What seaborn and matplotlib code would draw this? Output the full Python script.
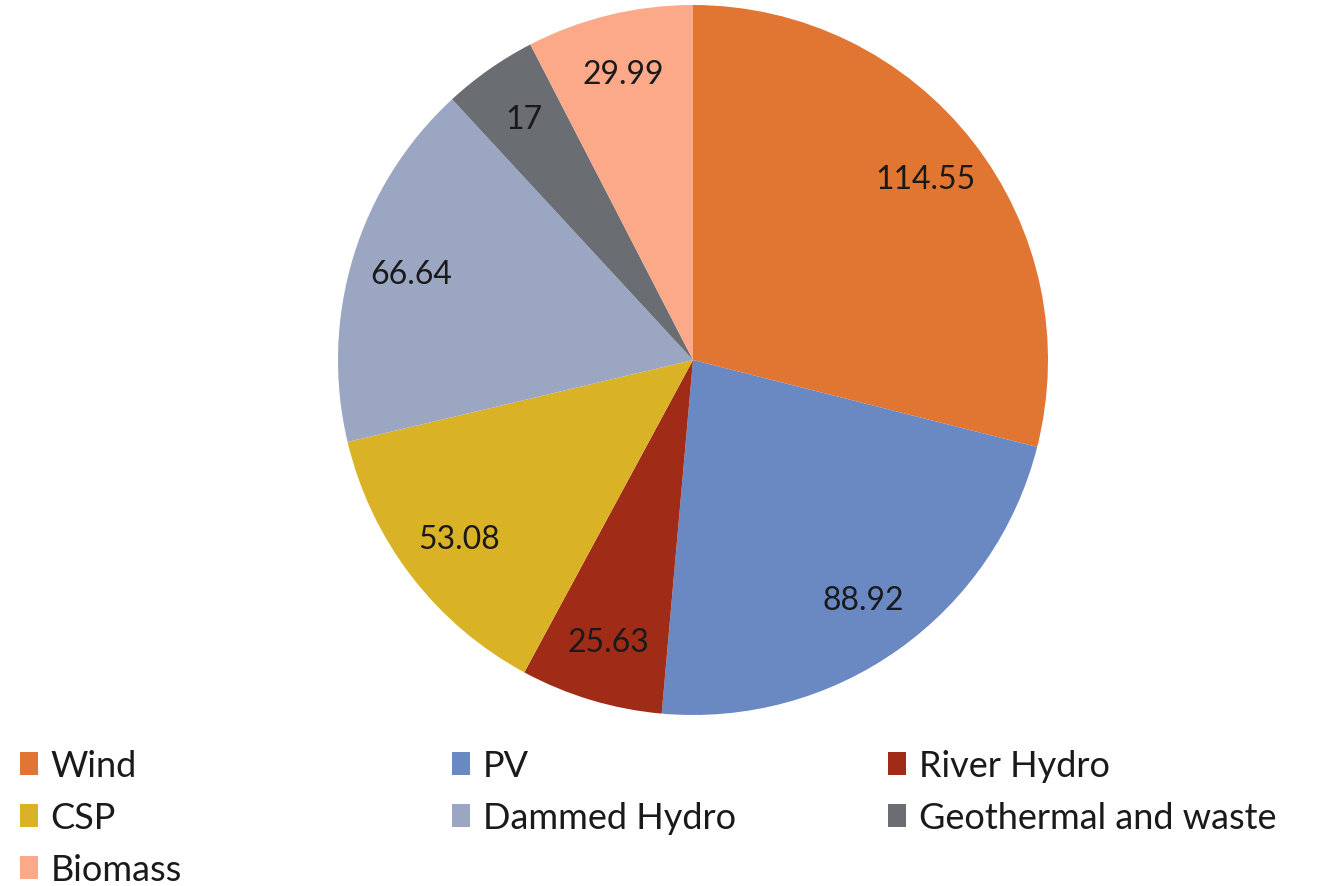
import matplotlib
matplotlib.use("Agg")
import matplotlib.pyplot as plt
from matplotlib.patches import Patch
import seaborn as sns

categories = ["Wind", "PV", "River Hydro", "CSP", "Dammed Hydro", "Geothermal and waste", "Biomass"]
values = [114.55, 88.92, 25.63, 53.08, 66.64, 17, 29.99]
value_labels = ["114.55", "88.92", "25.63", "53.08", "66.64", "17", "29.99"]
colors = ["#E07632", "#6A88C2", "#A02B17", "#D9B325", "#9AA6C2", "#6A6E73", "#FCA98A"]

sns.set_theme(style="white")
plt.rcParams["font.family"] = ["Lato", "DejaVu Sans"]

W, H = 1332, 887
fig = plt.figure(figsize=(W / 100, H / 100), dpi=100)
fig.patch.set_facecolor("white")

cx, cy, r = 693, 361, 355
ax = fig.add_axes([(cx - r) / W, (H - cy - r) / H, 2 * r / W, 2 * r / H])
palette = sns.color_palette(colors)
wedges, texts = ax.pie(values, colors=palette, startangle=90, counterclock=False,
                       labels=value_labels, labeldistance=0.83, radius=1,
                       wedgeprops=dict(linewidth=0),
                       textprops=dict(fontsize=23, color="#1a1a1a", ha="center", va="center"))
for t in texts:
    t.set_horizontalalignment("center")
ax.set_xlim(-1, 1)
ax.set_ylim(-1, 1)
ax.set_aspect("equal")
ax.axis("off")

# legend in 3 columns, row-major order
cols = [[0, 3, 6], [1, 4], [2, 5]]
col_x = [20, 452, 888]
for xs, idxs in zip(col_x, cols):
    handles = [Patch(facecolor=palette[i], edgecolor="none") for i in idxs]
    labs = [categories[i] for i in idxs]
    fig.legend(handles, labs, loc="upper left", bbox_to_anchor=(xs / W, 1 - 750 / H),
               frameon=False, fontsize=26, handlelength=0.5, handleheight=0.6,
               handletextpad=0.35, labelspacing=0.53, borderpad=0, borderaxespad=0,
               labelcolor="#1a1a1a")

fig.savefig("out.png", dpi=100, facecolor="white")
